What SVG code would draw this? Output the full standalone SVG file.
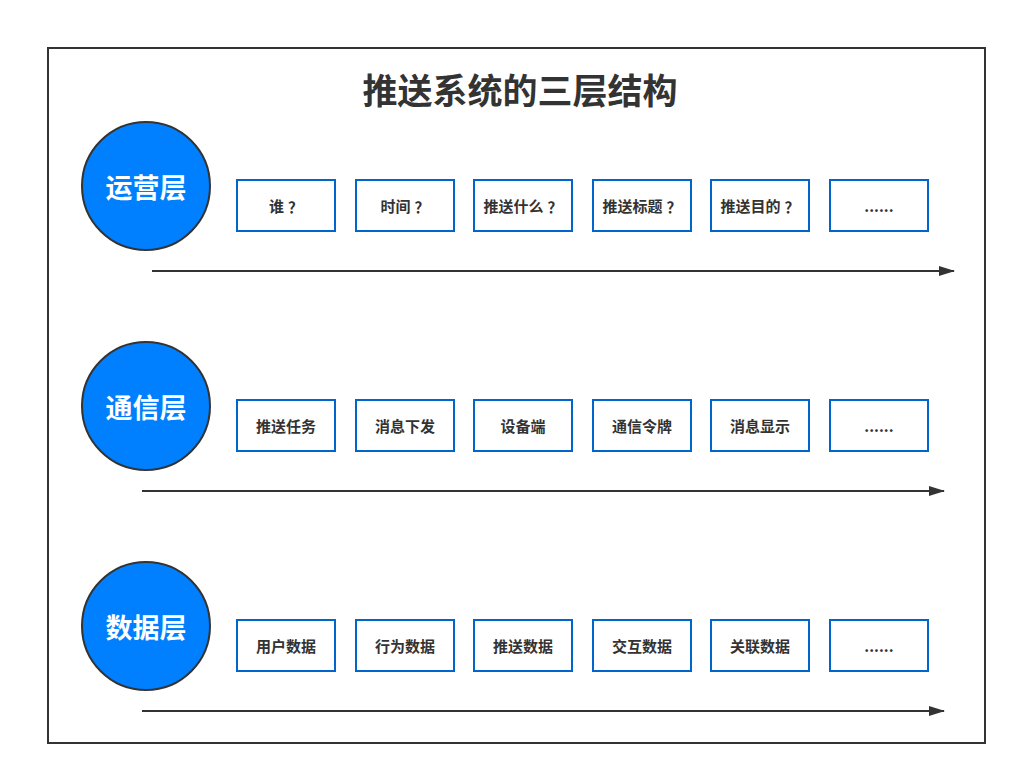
<svg xmlns="http://www.w3.org/2000/svg" width="1017" height="775" viewBox="0 0 1017 775">
<style>
.frame{fill:#fff;stroke:#333;stroke-width:2}
.layer{fill:#007FFF;stroke:#333;stroke-width:2}
.lt{fill:#fff;font-family:"Noto Sans CJK SC","Noto Sans",sans-serif;font-weight:bold;font-size:27px;text-anchor:middle;dominant-baseline:central}
.box{fill:#fff;stroke:#0066CC;stroke-width:2}
.bt{fill:#333;font-family:"Noto Sans CJK SC","Noto Sans",sans-serif;font-weight:bold;font-size:15px;text-anchor:middle;dominant-baseline:central}
.q{font-family:"Noto Sans CJK SC",sans-serif;font-feature-settings:"fwid" 1}
.title{fill:#333;font-family:"Noto Sans CJK SC","Noto Sans",sans-serif;font-weight:bold;font-size:35px;text-anchor:middle;dominant-baseline:central}
.conn{stroke:#333;stroke-width:2;fill:none;marker-end:url(#ah)}
</style>
<defs>
<marker id="ah" markerWidth="16" markerHeight="10" refX="15" refY="5" orient="auto" markerUnits="userSpaceOnUse">
<path d="M0,0 L16,5 L0,10 Z" fill="#333"/>
</marker>
</defs>
<rect width="1017" height="775" fill="#fff"/>
<rect class="frame" x="48" y="48" width="937" height="695"/>
<text class="title" x="520" y="88">推送系统的三层结构</text>

<g id="layer-ops"><circle class="layer" cx="146" cy="186" r="64"/><text class="lt" x="146" y="186">运营层</text></g>
<g id="layer-comm"><circle class="layer" cx="146" cy="406" r="64"/><text class="lt" x="146" y="406">通信层</text></g>
<g id="layer-data"><circle class="layer" cx="146" cy="626" r="64"/><text class="lt" x="146" y="626">数据层</text></g>

<g id="r1c1"><rect class="box" x="237" y="180" width="98" height="51"/><text class="bt" x="286" y="205.5">谁<tspan class="q" dx="4">？</tspan></text></g>
<g id="r1c2"><rect class="box" x="356" y="180" width="98" height="51"/><text class="bt" x="405" y="205.5">时间<tspan class="q" dx="4">？</tspan></text></g>
<g id="r1c3"><rect class="box" x="474" y="180" width="98" height="51"/><text class="bt" x="523" y="205.5">推送什么<tspan class="q" dx="4">？</tspan></text></g>
<g id="r1c4"><rect class="box" x="593" y="180" width="98" height="51"/><text class="bt" x="642" y="205.5">推送标题<tspan class="q" dx="4">？</tspan></text></g>
<g id="r1c5"><rect class="box" x="711" y="180" width="98" height="51"/><text class="bt" x="760" y="205.5">推送目的<tspan class="q" dx="4">？</tspan></text></g>
<g id="r1c6"><rect class="box" x="830" y="180" width="98" height="51"/><text class="bt" x="879" y="205.5">......</text></g>

<g id="r2c1"><rect class="box" x="237" y="400" width="98" height="51"/><text class="bt" x="286" y="425.5">推送任务</text></g>
<g id="r2c2"><rect class="box" x="356" y="400" width="98" height="51"/><text class="bt" x="405" y="425.5">消息下发</text></g>
<g id="r2c3"><rect class="box" x="474" y="400" width="98" height="51"/><text class="bt" x="523" y="425.5">设备端</text></g>
<g id="r2c4"><rect class="box" x="593" y="400" width="98" height="51"/><text class="bt" x="642" y="425.5">通信令牌</text></g>
<g id="r2c5"><rect class="box" x="711" y="400" width="98" height="51"/><text class="bt" x="760" y="425.5">消息显示</text></g>
<g id="r2c6"><rect class="box" x="830" y="400" width="98" height="51"/><text class="bt" x="879" y="425.5">......</text></g>

<g id="r3c1"><rect class="box" x="237" y="620" width="98" height="51"/><text class="bt" x="286" y="645.5">用户数据</text></g>
<g id="r3c2"><rect class="box" x="356" y="620" width="98" height="51"/><text class="bt" x="405" y="645.5">行为数据</text></g>
<g id="r3c3"><rect class="box" x="474" y="620" width="98" height="51"/><text class="bt" x="523" y="645.5">推送数据</text></g>
<g id="r3c4"><rect class="box" x="593" y="620" width="98" height="51"/><text class="bt" x="642" y="645.5">交互数据</text></g>
<g id="r3c5"><rect class="box" x="711" y="620" width="98" height="51"/><text class="bt" x="760" y="645.5">关联数据</text></g>
<g id="r3c6"><rect class="box" x="830" y="620" width="98" height="51"/><text class="bt" x="879" y="645.5">......</text></g>

<g id="connectors">
<line class="conn" x1="152" y1="271" x2="954" y2="271"/>
<line class="conn" x1="142" y1="491" x2="944" y2="491"/>
<line class="conn" x1="142" y1="711" x2="944" y2="711"/>
</g>
</svg>
